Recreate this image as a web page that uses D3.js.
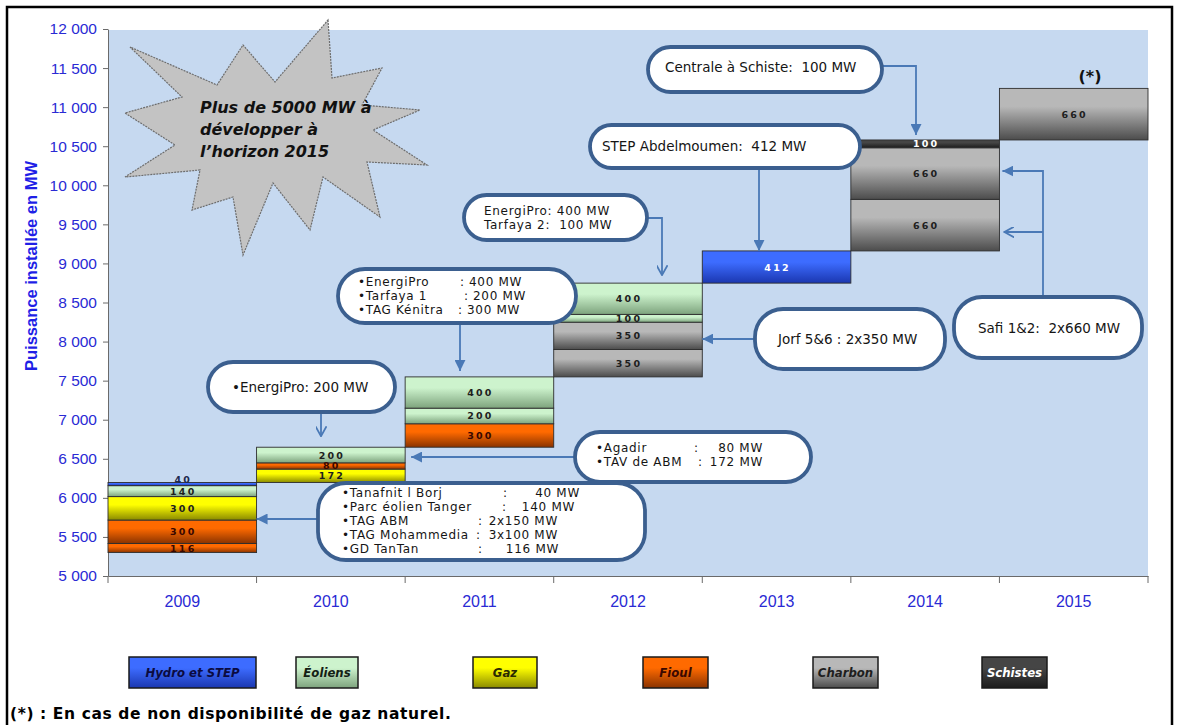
<!DOCTYPE html>
<html>
<head>
<meta charset="utf-8">
<script src="https://cdn.jsdelivr.net/npm/d3@7"></script>
<style>
  body { margin: 0; background: #fff; }
  svg text { font-family: "Liberation Sans", Arial, sans-serif; }
  .call text { font-family: "DejaVu Sans", sans-serif; font-size: 13.5px; fill: #151515; white-space: pre; }
  .call text.multi { font-size: 12px; letter-spacing: 0.7px; }
</style>
</head>
<body>
<div id="chart-container"></div>
<script>
"use strict"

// installed capacity before the first year, then additions stacked year by year
const years = ['2009', '2010', '2011', '2012', '2013', '2014', '2015'];
const baseMW = 5300;
const categories = ['Hydro et STEP', 'Éoliens', 'Gaz', 'Fioul', 'Charbon', 'Schistes'];
const segYear  = ['2009', '2009', '2009', '2009', '2009', '2010', '2010', '2010', '2011', '2011', '2011',
                  '2012', '2012', '2012', '2012', '2013', '2014', '2014', '2014', '2015'];
const segCat   = ['Fioul', 'Fioul', 'Gaz', 'Éoliens', 'Hydro et STEP', 'Gaz', 'Fioul', 'Éoliens', 'Fioul', 'Éoliens', 'Éoliens',
                  'Charbon', 'Charbon', 'Éoliens', 'Éoliens', 'Hydro et STEP', 'Charbon', 'Charbon', 'Schistes', 'Charbon'];
const segValue = [116, 300, 300, 140, 40, 172, 80, 200, 300, 200, 400, 350, 350, 100, 400, 412, 660, 660, 100, 660];
const yTicks = d3.range(5000, 12001, 500);
const yTitle = 'Puissance installée en MW';
const starLines = ['Plus de 5000 MW à', 'développer à', 'l\u2019horizon 2015'];
const footnote = '(*) : En cas de non disponibilité de gaz naturel.';

document.addEventListener('DOMContentLoaded', function(){
  drawChart();
});

function drawChart(){
  const W = 1179, H = 725;
  const svg = d3.select('#chart-container').append('svg')
    .attr('width', W).attr('height', H);

  // colours per category: top / bottom of the gradient, label colour
  const catStyle = {
    'Hydro et STEP': { top: '#3d6cff', bot: '#1b37b0', lab: '#ffffff', leg: '#0b0b40' },
    'Éoliens':       { top: '#cdf3cd', bot: '#7da37d', lab: '#1e1e1e', leg: '#142014' },
    'Gaz':           { top: '#ffff00', bot: '#8a8a00', lab: '#1e1e1e', leg: '#2a2a00' },
    'Fioul':         { top: '#ff6a00', bot: '#8a3300', lab: '#3a0800', leg: '#3a0800' },
    'Charbon':       { top: '#b8b8b8', bot: '#4c4c4c', lab: '#1e1e1e', leg: '#1e1e1e' },
    'Schistes':      { top: '#454545', bot: '#1c1c1c', lab: '#ffffff', leg: '#ffffff' }
  };

  const defs = svg.append('defs');
  categories.forEach((c, i) => {
    const g = defs.append('linearGradient').attr('id', 'grad' + i)
      .attr('x1', 0).attr('y1', 0).attr('x2', 0).attr('y2', 1);
    g.append('stop').attr('offset', '0%').attr('stop-color', catStyle[c].top);
    g.append('stop').attr('offset', '35%').attr('stop-color', catStyle[c].top);
    g.append('stop').attr('offset', '100%').attr('stop-color', catStyle[c].bot);
  });

  // arrow heads
  const arrowCol = '#4a79b6';
  defs.append('marker').attr('id', 'tri')
    .attr('viewBox', '0 0 10 10').attr('refX', 10).attr('refY', 5)
    .attr('markerWidth', 11).attr('markerHeight', 11)
    .attr('markerUnits', 'userSpaceOnUse').attr('orient', 'auto')
    .append('path').attr('d', 'M0,0 L10,5 L0,10 z').attr('fill', arrowCol);
  defs.append('marker').attr('id', 'vee')
    .attr('viewBox', '0 0 10 10').attr('refX', 9).attr('refY', 5)
    .attr('markerWidth', 11).attr('markerHeight', 11)
    .attr('markerUnits', 'userSpaceOnUse').attr('orient', 'auto')
    .append('path').attr('d', 'M0,0 L9,5 L0,10').attr('fill', 'none')
    .attr('stroke', arrowCol).attr('stroke-width', 1.6);

  // frame
  svg.append('rect').attr('x', 7).attr('y', 7).attr('width', 1165).attr('height', 740)
    .attr('fill', 'none').attr('stroke', '#000').attr('stroke-width', 2.5);

  /***************************************
   SCALES
  ***************************************/
  const x = d3.scaleBand().domain(years).range([108, 1148]).padding(0);
  const y = d3.scaleLinear().domain([5000, 12000]).range([576, 29]);

  // plot background
  svg.append('rect')
    .attr('x', x.range()[0]).attr('y', y(12000) + 1)
    .attr('width', x.range()[1] - x.range()[0]).attr('height', y(5000) - y(12000) - 1)
    .attr('fill', '#c6d9f0');

  // waterfall: every segment starts where the previous ended
  let run = baseMW;
  const segs = segValue.map((v, i) => {
    const s = { year: segYear[i], cat: segCat[i], value: v, y0: run, y1: run + v };
    run += v;
    return s;
  });
  const topOf = {};
  segs.forEach(s => { topOf[s.year] = s.y1; });

  /***************************************
   AXES
  ***************************************/
  const fmt = d => d3.format(',')(d).replace(',', ' ');
  const yAxis = svg.append('g').attr('transform', 'translate(' + x.range()[0] + ',0)')
    .call(d3.axisLeft(y).tickValues(yTicks).tickFormat(fmt).tickSize(5).tickSizeOuter(0).tickPadding(6));
  yAxis.select('.domain').attr('stroke', '#6a6a6a');
  yAxis.selectAll('.tick line').attr('stroke', '#6a6a6a');
  yAxis.selectAll('.tick text').attr('fill', '#2a2ad4').style('font-size', '15.5px')
    .style('font-family', '"Liberation Sans", Arial, sans-serif');

  const xAxis = svg.append('g').attr('transform', 'translate(0,' + y(5000) + ')')
    .call(d3.axisBottom(x).tickSize(0).tickPadding(20));
  xAxis.select('.domain').attr('stroke', '#6a6a6a');
  xAxis.selectAll('.tick text').attr('fill', '#2a2ad4').style('font-size', '16px')
    .style('font-family', '"Liberation Sans", Arial, sans-serif');
  const edges = years.map(d => x(d)).concat([x.range()[1]]);
  svg.selectAll('.sep').data(edges).enter().append('line')
    .attr('x1', d => d).attr('x2', d => d)
    .attr('y1', y(5000)).attr('y2', y(5000) + 7)
    .attr('stroke', '#6a6a6a');

  svg.append('text')
    .attr('transform', 'translate(37,266) rotate(-90)')
    .attr('text-anchor', 'middle')
    .attr('fill', '#1f1fe6').style('font-size', '16.5px').style('font-weight', 'bold')
    .text(yTitle);

  /***************************************
   STAR
  ***************************************/
  const starPts = [[328,20],[332,78],[382,68],[362,105],[420,110],[373,130],[427,165],[367,162],
                   [380,217],[323,177],[310,230],[273,183],[243,255],[233,197],[192,210],[200,170],
                   [125,177],[175,145],[125,113],[182,97],[130,47],[217,85],[243,45],[275,82]];
  svg.append('polygon')
    .attr('points', starPts.map(p => p.join(',')).join(' '))
    .attr('fill', '#c3c3c3').attr('stroke', '#6d6d6d').attr('stroke-width', 1.2)
    .attr('stroke-dasharray', '2,1');
  svg.append('g').selectAll('text').data(starLines).enter().append('text')
    .attr('x', 200).attr('y', (d, i) => 113 + i * 22)
    .style('font-family', '"DejaVu Sans", sans-serif')
    .style('font-size', '16px').style('font-weight', 'bold').style('font-style', 'italic')
    .attr('fill', '#111')
    .text(d => d);

  /***************************************
   BARS
  ***************************************/
  svg.selectAll('rect.bar').data(segs).enter().append('rect')
    .attr('class', 'bar')
    .attr('x', d => x(d.year))
    .attr('y', d => y(d.y1))
    .attr('width', x.bandwidth())
    .attr('height', d => y(d.y0) - y(d.y1))
    .attr('fill', d => 'url(#grad' + categories.indexOf(d.cat) + ')')
    .attr('stroke', '#2e2e2e').attr('stroke-width', 0.9);

  svg.selectAll('text.val').data(segs).enter().append('text')
    .attr('class', 'val')
    .attr('x', d => x(d.year) + x.bandwidth() / 2 + 1)
    .attr('y', d => (y(d.y0) + y(d.y1)) / 2 - (y(d.y0) - y(d.y1) < 5 ? 5 : 0))
    .attr('dominant-baseline', 'central')
    .attr('text-anchor', 'middle')
    .style('font-family', '"DejaVu Sans", sans-serif')
    .style('font-size', '9.5px').style('font-weight', 'bold').style('letter-spacing', '2.2px')
    .attr('fill', d => (y(d.y0) - y(d.y1) < 5) ? '#1e2a50' : catStyle[d.cat].lab)
    .text(d => d.value);

  /***************************************
   CALLOUTS AND ARROWS
  ***************************************/
  const bandEnd = d => x(d) + x.bandwidth();
  const arrows = [
    { d: 'M882,66 H916 V' + (y(topOf['2014']) - 5), m: 'tri' },
    { d: 'M759,168 V' + y(topOf['2013']), m: 'tri' },
    { d: 'M647,218 H662 V' + (y(topOf['2012']) - 8), m: 'vee' },
    { d: 'M460,323 V' + (y(topOf['2011']) - 6), m: 'tri' },
    { d: 'M321,412 V' + (y(topOf['2010']) - 11), m: 'vee' },
    { d: 'M575,457 H' + (bandEnd('2010') + 6), m: 'tri' },
    { d: 'M318,519 H' + bandEnd('2009'), m: 'tri' },
    { d: 'M755,339 H' + bandEnd('2012'), m: 'tri' },
    { d: 'M1043,297 V171 H' + (bandEnd('2014') + 3), m: 'tri' },
    { d: 'M1043,232 H' + (bandEnd('2014') + 5), m: 'vee' }
  ];
  svg.append('g').selectAll('path').data(arrows).enter().append('path')
    .attr('d', d => d.d).attr('fill', 'none')
    .attr('stroke', arrowCol).attr('stroke-width', 1.8)
    .attr('marker-end', d => 'url(#' + d.m + ')');

  const callouts = [
    { x: 648, y: 47, w: 234, h: 45, lines: [{ y: 72, parts: [{ x: 665, t: 'Centrale à Schiste:  100 MW' }] }] },
    { x: 590, y: 125, w: 270, h: 43, lines: [{ y: 151, parts: [{ x: 602, t: 'STEP Abdelmoumen:  412 MW' }] }] },
    { x: 464, y: 195, w: 183, h: 45, multi: true, lines: [
        { y: 215, parts: [{ x: 484, t: 'EnergiPro: 400 MW' }] },
        { y: 229, parts: [{ x: 484, t: 'Tarfaya 2:  100 MW' }] }] },
    { x: 338, y: 269, w: 238, h: 54, multi: true, lines: [
        { y: 286, parts: [{ x: 358, t: '•EnergiPro' }, { x: 460, t: ':' }, { x: 469, t: '400 MW' }] },
        { y: 300, parts: [{ x: 358, t: '•Tarfaya 1' }, { x: 464, t: ':' }, { x: 473, t: '200 MW' }] },
        { y: 314, parts: [{ x: 358, t: '•TAG Kénitra' }, { x: 458, t: ':' }, { x: 467, t: '300 MW' }] }] },
    { x: 208, y: 362, w: 187, h: 50, lines: [{ y: 392, parts: [{ x: 232, t: '•EnergiPro: 200 MW' }] }] },
    { x: 575, y: 432, w: 236, h: 50, multi: true, lines: [
        { y: 452, parts: [{ x: 596, t: '•Agadir' }, { x: 694, t: ':' }, { x: 763, t: '80 MW', a: 'end' }] },
        { y: 466, parts: [{ x: 596, t: '•TAV de ABM' }, { x: 698, t: ':' }, { x: 763, t: '172 MW', a: 'end' }] }] },
    { x: 318, y: 483, w: 327, h: 77, multi: true, lines: [
        { y: 497, parts: [{ x: 342, t: '•Tanafnit l Borj' }, { x: 503, t: ':' }, { x: 580, t: '40 MW', a: 'end' }] },
        { y: 511, parts: [{ x: 342, t: '•Parc éolien Tanger' }, { x: 502, t: ':' }, { x: 575, t: '140 MW', a: 'end' }] },
        { y: 525, parts: [{ x: 342, t: '•TAG ABM' }, { x: 478, t: ':' }, { x: 558, t: '2x150 MW', a: 'end' }] },
        { y: 539, parts: [{ x: 342, t: '•TAG Mohammedia' }, { x: 476, t: ':' }, { x: 558, t: '3x100 MW', a: 'end' }] },
        { y: 553, parts: [{ x: 342, t: '•GD TanTan' }, { x: 478, t: ':' }, { x: 559, t: '116 MW', a: 'end' }] }] },
    { x: 755, y: 309, w: 190, h: 60, lines: [{ y: 344, parts: [{ x: 778, t: 'Jorf 5&6 : 2x350 MW' }] }] },
    { x: 954, y: 297, w: 188, h: 61, lines: [{ y: 333, parts: [{ x: 978, t: 'Safi 1&2:  2x660 MW' }] }] }
  ];

  const cg = svg.append('g').attr('class', 'call');
  callouts.forEach(c => {
    cg.append('rect')
      .attr('x', c.x).attr('y', c.y).attr('width', c.w).attr('height', c.h)
      .attr('rx', Math.min(c.h / 2, 28)).attr('ry', Math.min(c.h / 2, 28))
      .attr('fill', '#fff').attr('stroke', '#3b5f8f').attr('stroke-width', 3.8);
    c.lines.forEach(l => {
      l.parts.forEach(p => {
        cg.append('text').attr('x', p.x).attr('y', l.y)
          .attr('class', c.multi ? 'multi' : null)
          .attr('text-anchor', p.a || 'start')
          .text(p.t);
      });
    });
  });

  svg.append('text').attr('x', 1090).attr('y', 82).attr('text-anchor', 'middle')
    .style('font-family', '"DejaVu Sans", sans-serif')
    .style('font-size', '16px').style('font-weight', 'bold').attr('fill', '#111')
    .text('(*)');

  /***************************************
   LEGEND
  ***************************************/
  const legX = [129, 296, 473, 643, 813, 982];
  const legW = [127, 62, 64, 65, 65, 65];
  const leg = svg.append('g');
  categories.forEach((c, i) => {
    leg.append('rect').attr('x', legX[i]).attr('y', 657).attr('width', legW[i]).attr('height', 31)
      .attr('fill', 'url(#grad' + i + ')').attr('stroke', '#1a1a1a').attr('stroke-width', 1.5);
    leg.append('text').attr('x', legX[i] + legW[i] / 2).attr('y', 677)
      .attr('text-anchor', 'middle')
      .style('font-family', '"DejaVu Sans Condensed", "DejaVu Sans", sans-serif')
      .style('font-size', '13px').style('font-weight', 'bold').style('font-style', 'italic')
      .attr('fill', catStyle[c].leg)
      .text(c);
  });

  svg.append('text').attr('x', 10).attr('y', 719)
    .style('font-family', '"DejaVu Sans", sans-serif')
    .style('font-size', '15.5px').style('font-weight', 'bold').style('letter-spacing', '0.6px')
    .attr('fill', '#000')
    .text(footnote);
}
</script>
</body>
</html>
